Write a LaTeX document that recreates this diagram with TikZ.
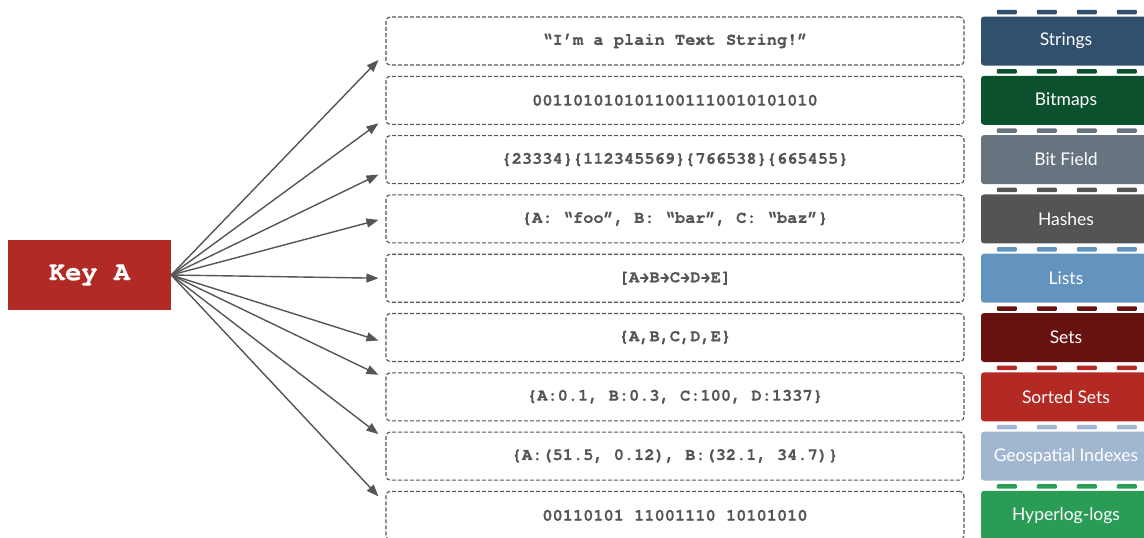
\documentclass[tikz,border=0pt]{standalone}
\usepackage{fontspec}
\setmainfont{Lato}
\setmonofont{TeX Gyre Cursor}[BoldFeatures={FakeBold=0.8}]
\usetikzlibrary{arrows.meta}

\definecolor{keyred}{HTML}{B22A25}
\definecolor{valgray}{HTML}{555555}
\definecolor{cstrings}{HTML}{30506E}
\definecolor{cbitmaps}{HTML}{0B512E}
\definecolor{cbitfield}{HTML}{67737F}
\definecolor{chashes}{HTML}{545454}
\definecolor{clists}{HTML}{6394BD}
\definecolor{csets}{HTML}{661211}
\definecolor{csorted}{HTML}{B32A25}
\definecolor{cgeo}{HTML}{A1B6CF}
\definecolor{chll}{HTML}{2B9C55}

\begin{document}
\begin{tikzpicture}[x=1pt,y=-1pt,
    keybox/.style={fill=keyred, text=white, minimum width=163pt, minimum height=70pt,
      font=\ttfamily\bfseries\fontsize{27}{30}\selectfont},
    valbox/.style={draw=valgray, line width=1.1pt, dash pattern=on 4pt off 2pt, rounded corners=4pt,
      minimum width=578pt, minimum height=48pt, text=valgray,
      font=\ttfamily\bfseries\fontsize{17}{20}\selectfont},
    typebox/.style={fill=#1, text=white, rounded corners=3pt,
      minimum width=170pt, minimum height=49pt, font=\fontsize{17.5}{20}\selectfont},
    link/.style={draw=valgray, line width=1.4pt, -{Triangle[length=12pt,width=9pt]}}]
  \useasboundingbox (0,0) rectangle (1144,538);
  \clip (0,0) rectangle (1144,538);

  % the key
  \node[keybox] (key) at (89.5,275) {Key A};

  % values
  \node[valbox] (v1) at (675,41)    {“I’m a plain Text String!”};
  \node[valbox] (v2) at (675,100.3) {0011010101011001110010101010};
  \node[valbox] (v3) at (675,159.6) {\{23334\}\{112345569\}\{766538\}\{665455\}};
  \node[valbox] (v4) at (675,218.9) {\{A: “foo”, B: “bar”, C: “baz”\}};
  \node[valbox] (v5) at (675,278.2) {[A→B→C→D→E]};
  \node[valbox] (v6) at (675,337.5) {\{A,B,C,D,E\}};
  \node[valbox] (v7) at (675,396.8) {\{A:0.1, B:0.3, C:100, D:1337\}};
  \node[valbox] (v8) at (675,456.1) {\{A:(51.5, 0.12), B:(32.1, 34.7)\}};
  \node[valbox] (v9) at (675,515.4) {00110101 11001110 10101010};

  % data types
  \node[typebox=cstrings]  (t1) at (1066,41)    {Strings};
  \node[typebox=cbitmaps]  (t2) at (1066,100.3) {Bitmaps};
  \node[typebox=cbitfield] (t3) at (1066,159.6) {Bit Field};
  \node[typebox=chashes]   (t4) at (1066,218.9) {Hashes};
  \node[typebox=clists]    (t5) at (1066,278.2) {Lists};
  \node[typebox=csets]     (t6) at (1066,337.5) {Sets};
  \node[typebox=csorted]   (t7) at (1066,396.8) {Sorted Sets};
  \node[typebox=cgeo]      (t8) at (1066,456.1) {Geospatial Indexes};
  \node[typebox=chll]      (t9) at (1066,515.4) {Hyperlog-logs};

  % little tabs on top of each type
  \foreach \n/\c in {t1/cstrings,t2/cbitmaps,t3/cbitfield,t4/chashes,t5/clists,
                     t6/csets,t7/csorted,t8/cgeo,t9/chll}
    \foreach \dx in {16,56,96,136}
      \fill[\c, rounded corners=1pt] ([shift={(\dx,-6.5)}]\n.north west) rectangle +(20,4.5);

  % arrow ends
  \foreach \i/\dy in {1/19,2/23,3/15,4/1,5/0,6/3,7/-22,8/-22,9/-19}
    \coordinate (e\i) at ([shift={(-7,\dy)}]v\i.west);

  \foreach \i in {1,...,9}
    \draw[link] (key.east) -- (e\i);
\end{tikzpicture}
\end{document}
